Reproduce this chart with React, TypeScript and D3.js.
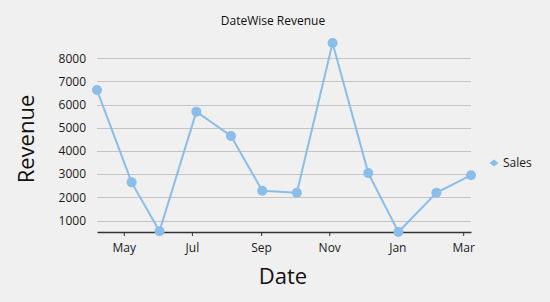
import React, { useRef, useEffect } from 'react';
import * as d3 from 'd3';

// Sales per visit date
const dates: string[] = [
    '2014-04-07', '2014-05-08', '2014-06-02', '2014-07-05', '2014-08-05', '2014-09-02',
    '2014-10-03', '2014-11-04', '2014-12-06', '2015-01-02', '2015-02-05', '2015-03-08',
];
const sales: number[] = [6630, 2650, 540, 5700, 4650, 2290, 2200, 8660, 3050, 510, 2200, 2960];
const yTicks: number[] = [1000, 2000, 3000, 4000, 5000, 6000, 7000, 8000];
const seriesName = 'Sales';

const W = 550;
const H = 302;
const FONT = '"Open Sans", "Noto Sans", sans-serif';
const LINE = '#8abde8';

const App: React.FC = () => {
    const svgRef = useRef<SVGSVGElement | null>(null);

    useEffect(() => {
        if (!svgRef.current) return;
        const svg = d3.select(svgRef.current);
        svg.selectAll('*').remove();

        const margin = { left: 97, right: 79, top: 43, bottom: 70 };
        const parse = d3.timeParse('%Y-%m-%d');
        const data = dates.map((d, i) => ({ date: parse(d) as Date, value: sales[i] }));

        const x = d3.scaleTime()
            .domain(d3.extent(data, d => d.date) as [Date, Date])
            .range([margin.left, W - margin.right]);
        const y = d3.scaleLinear()
            .domain(d3.extent(data, d => d.value) as [number, number])
            .range([H - margin.bottom, margin.top]);

        svg.append('rect').attr('width', W).attr('height', H).attr('fill', '#f0f0f0');

        // gridlines + y labels
        const grid = svg.append('g');
        grid.selectAll('line')
            .data(yTicks)
            .enter()
            .append('line')
            .attr('x1', margin.left)
            .attr('x2', W - margin.right)
            .attr('y1', d => Math.round(y(d)) + 0.5)
            .attr('y2', d => Math.round(y(d)) + 0.5)
            .attr('stroke', '#c4c4c4')
            .attr('stroke-width', 1);
        grid.selectAll('text')
            .data(yTicks)
            .enter()
            .append('text')
            .attr('x', margin.left - 11)
            .attr('y', d => y(d))
            .attr('dy', '0.35em')
            .attr('text-anchor', 'end')
            .style('font-family', FONT)
            .style('font-size', '12px')
            .attr('fill', '#1a1a1a')
            .text(d => d);

        // x axis
        const xAxis = d3.axisBottom(x)
            .ticks(d3.timeMonth.every(2))
            .tickFormat(d3.timeFormat('%b') as any)
            .tickSize(4)
            .tickSizeOuter(0);
        const gx = svg.append('g')
            .attr('transform', `translate(0, ${H - margin.bottom})`)
            .call(xAxis as any);
        gx.select('.domain').attr('stroke', '#333').attr('stroke-width', 1.3);
        gx.selectAll('.tick line').attr('stroke', '#333');
        gx.selectAll('.tick text')
            .style('font-family', FONT)
            .style('font-size', '12px')
            .attr('fill', '#1a1a1a')
            .attr('dy', '1.05em');

        // line + markers
        const line = d3.line<{ date: Date; value: number }>()
            .x(d => x(d.date))
            .y(d => y(d.value));
        svg.append('path')
            .datum(data)
            .attr('d', line)
            .attr('fill', 'none')
            .attr('stroke', LINE)
            .attr('stroke-width', 2);
        svg.append('g')
            .selectAll('circle')
            .data(data)
            .enter()
            .append('circle')
            .attr('cx', d => x(d.date))
            .attr('cy', d => y(d.value))
            .attr('r', 5)
            .attr('fill', LINE);

        // titles
        svg.append('text')
            .attr('x', 273)
            .attr('y', 25)
            .attr('text-anchor', 'middle')
            .style('font-family', FONT)
            .style('font-size', '12px')
            .attr('fill', '#111')
            .text('DateWise Revenue');
        svg.append('text')
            .attr('x', 283)
            .attr('y', 284)
            .attr('text-anchor', 'middle')
            .style('font-family', FONT)
            .style('font-size', '22px')
            .attr('fill', '#111')
            .text('Date');
        svg.append('text')
            .attr('transform', 'translate(34, 139) rotate(-90)')
            .attr('text-anchor', 'middle')
            .style('font-family', FONT)
            .style('font-size', '22px')
            .attr('fill', '#111')
            .text('Revenue');

        // legend: flat diamond marker + series name
        const legend = svg.append('g').attr('transform', 'translate(494, 163)');
        legend.append('path')
            .attr('d', 'M-4.5,0L0,-3.5L4.5,0L0,3.5Z')
            .attr('fill', LINE);
        legend.append('text')
            .attr('x', 9)
            .attr('y', 0)
            .attr('dy', '0.35em')
            .style('font-family', FONT)
            .style('font-size', '12px')
            .attr('fill', '#1a1a1a')
            .text(seriesName);
    }, []);

    return (
        <svg ref={svgRef} width={W} height={H} style={{ position: 'absolute', left: 0, top: 0 }} />
    );
};

export default App;
